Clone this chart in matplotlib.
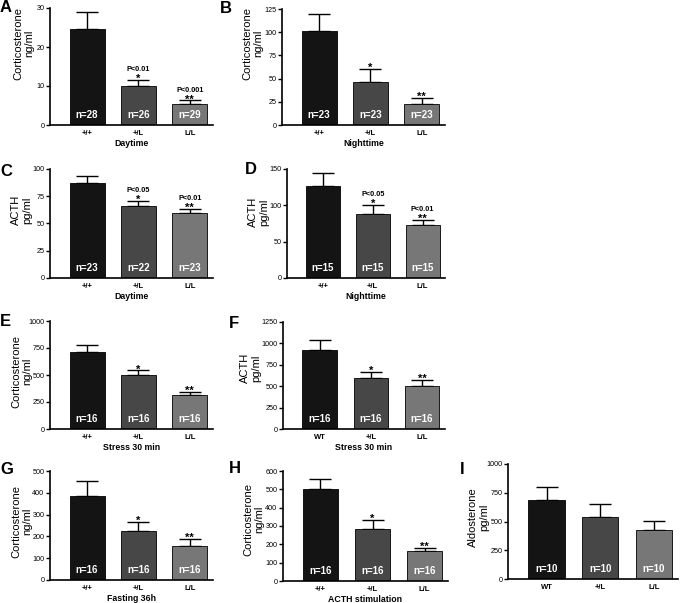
import matplotlib
matplotlib.use('Agg')
import matplotlib.pyplot as plt

plt.rcParams['font.family'] = ['Liberation Sans', 'DejaVu Sans']

W, H = 685, 603

# ---------------- data ----------------
genotypes = ['+/+', '+/L', 'L/L']
genotypes_wt = ['WT', '+/L', 'L/L']

a_mean = [24.6, 10.0, 5.45]
a_err = [4.3, 1.6, 0.85]
a_n = ['n=28', 'n=26', 'n=29']
a_star = ['', '*', '**']
a_p = ['', 'P<0.01', 'P<0.001']

b_mean = [101, 46, 22.5]
b_err = [19, 14.5, 6.5]
b_n = ['n=23', 'n=23', 'n=23']
b_star = ['', '*', '**']
b_p = ['', '', '']

c_mean = [87, 65.7, 59.6]
c_err = [7, 5.3, 4]
c_n = ['n=23', 'n=22', 'n=23']
c_star = ['', '*', '**']
c_p = ['', 'P<0.05', 'P<0.01']

d_mean = [127, 88.5, 73.6]
d_err = [17, 12.5, 6.4]
d_n = ['n=15', 'n=15', 'n=15']
d_star = ['', '*', '**']
d_p = ['', 'P<0.05', 'P<0.01']

e_mean = [713, 497, 318]
e_err = [65, 46, 28]
e_n = ['n=16', 'n=16', 'n=16']
e_star = ['', '*', '**']

f_mean = [928, 598, 505]
f_err = [116, 70, 66]
f_n = ['n=16', 'n=16', 'n=16']
f_star = ['', '*', '**']

g_mean = [387, 226, 156]
g_err = [69, 42, 31]
g_n = ['n=16', 'n=16', 'n=16']
g_star = ['', '*', '**']

h_mean = [500, 286, 164]
h_err = [56, 46, 18]
h_n = ['n=16', 'n=16', 'n=16']
h_star = ['', '*', '**']

i_mean = [686, 535, 427]
i_err = [114, 116, 79]
i_n = ['n=10', 'n=10', 'n=10']
i_star = ['', '', '']

no_p = ['', '', '']
bar_colors = ['#141414', '#474747', '#777777']

fig = plt.figure(figsize=(W / 100, H / 100), dpi=100)


def panel(letter, lpos, box, mean, err, nlab, stars, pvals, xt, xlabel,
          ylabel, ylab_pos, yticks):
    x0, x1, yt, yb = box
    ax = fig.add_axes([x0 / W, 1 - yb / H, (x1 - x0) / W, (yb - yt) / H])
    xs = range(len(mean))
    ax.bar(xs, mean, width=0.68, color=bar_colors, edgecolor='black',
           linewidth=0.6, zorder=2)
    ax.errorbar(xs, mean, yerr=[[0] * len(err), err], fmt='none',
                ecolor='black', elinewidth=1.0, capsize=8, capthick=1.0,
                zorder=1)
    ax.set_xlim(-0.72, 2.45)
    ax.set_ylim(0, yticks[-1])
    ax.set_yticks(yticks)
    ax.set_yticklabels([str(t) for t in yticks], fontsize=5.2)
    ax.set_xticks(list(xs))
    ax.set_xticklabels(xt, fontsize=5.5, fontweight='bold')
    ax.tick_params(axis='x', length=0, pad=3.5)
    ax.tick_params(axis='y', length=3, width=1, pad=1)
    for s in ['top', 'right']:
        ax.spines[s].set_visible(False)
    for s in ['left', 'bottom']:
        ax.spines[s].set_linewidth(1.2)
    if xlabel:
        ax.set_xlabel(xlabel, fontsize=6.3, fontweight='bold', labelpad=1.5)
    for i in xs:
        top = mean[i] + err[i]
        ax.annotate(nlab[i], (i, 0), xytext=(0, 5), textcoords='offset points',
                    ha='center', va='baseline', color='white', fontsize=7,
                    fontweight='bold', zorder=3)
        if stars[i]:
            ax.annotate(stars[i], (i, top), xytext=(0, -1.5),
                        textcoords='offset points', ha='center',
                        va='baseline', fontsize=8, fontweight='bold')
        if pvals[i]:
            ax.annotate(pvals[i], (i, top), xytext=(0, 6.2),
                        textcoords='offset points', ha='center',
                        va='baseline', fontsize=5.3, fontweight='bold')
    fig.text(ylab_pos[0] / W, 1 - ylab_pos[1] / H, ylabel, rotation=90,
             ha='center', va='center', multialignment='center', fontsize=8,
             linespacing=1.15)
    fig.text(lpos[0] / W, 1 - lpos[1] / H, letter, ha='left', va='top',
             fontsize=12, fontweight='bold')
    return ax


panel('A', (0, 0), (50, 213, 8, 125), a_mean, a_err, a_n, a_star, a_p,
      genotypes, 'Daytime', 'Corticosterone\nng/ml', (24, 43), [0, 10, 20, 30])
panel('B', (220, 1), (282, 445, 9, 125), b_mean, b_err, b_n, b_star, b_p,
      genotypes, 'Nighttime', 'Corticosterone\nng/ml', (253, 43),
      [0, 25, 50, 75, 100, 125])
panel('C', (0, 164), (50, 213, 169, 278), c_mean, c_err, c_n, c_star, c_p,
      genotypes, 'Daytime', 'ACTH\npg/ml', (22, 210), [0, 25, 50, 75, 100])
panel('D', (245, 162), (287, 445, 169, 278), d_mean, d_err, d_n, d_star, d_p,
      genotypes, 'Nighttime', 'ACTH\npg/ml', (259, 212), [0, 50, 100, 150])
panel('E', (0, 314), (50, 213, 321, 429), e_mean, e_err, e_n, e_star, no_p,
      genotypes, 'Stress 30 min', 'Corticosterone\nng/ml', (22, 371),
      [0, 250, 500, 750, 1000])
panel('F', (229, 316), (283, 445, 322, 429), f_mean, f_err, f_n, f_star, no_p,
      genotypes_wt, 'Stress 30 min', 'ACTH\npg/ml', (251, 368),
      [0, 250, 500, 750, 1000, 1250])
panel('G', (0, 462), (50, 213, 471, 580), g_mean, g_err, g_n, g_star, no_p,
      genotypes, 'Fasting 36h', 'Corticosterone\nng/ml', (22, 521),
      [0, 100, 200, 300, 400, 500])
panel('H', (229, 461), (283, 448, 471, 581), h_mean, h_err, h_n, h_star, no_p,
      genotypes, 'ACTH stimulation', 'Corticosterone\nng/ml', (254, 519),
      [0, 100, 200, 300, 400, 500, 600])
panel('I', (460, 462), (508, 678, 464, 579), i_mean, i_err, i_n, i_star, no_p,
      genotypes_wt, '', 'Aldosterone\npg/ml', (479, 517),
      [0, 250, 500, 750, 1000])

fig.savefig('out.png', dpi=100)
